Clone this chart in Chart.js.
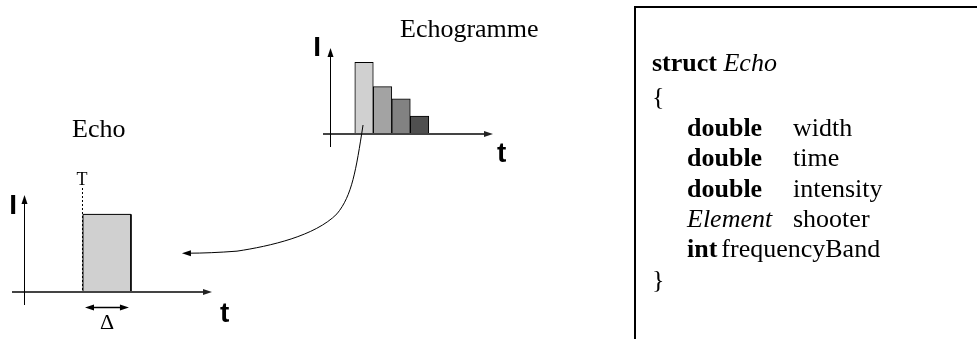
<!DOCTYPE html>
<html>
<head>
<meta charset="utf-8">
<script src="https://cdn.jsdelivr.net/npm/chart.js@4.4.1/dist/chart.umd.min.js"></script>
<style>
  html, body { margin: 0; padding: 0; background: #fff; }
  #page { position: relative; width: 977px; height: 339px; overflow: hidden; }
  canvas { position: absolute; }
  #gram { left: 300px; top: 0; }
  #echo { left: 0; top: 110px; }
  #link { left: 0; top: 0; pointer-events: none; }
  #box {
    position: absolute; left: 634px; top: 6px; width: 420px; height: 420px;
    border: 2px solid #000; box-sizing: border-box;
    padding: 40px 0 0 16px;
    font-family: "Liberation Serif", "Times New Roman", serif;
    font-size: 26px; line-height: 30.4px; color: #000;
  }
  #box .head { margin-bottom: 4px; }
  #box .in { padding-left: 35px; }
  #box .ty { display: inline-block; width: 106px; }
  #box b { font-weight: bold; }
  #box i { font-style: italic; }
</style>
</head>
<body>
<div id="page">
  <canvas id="gram" width="250" height="170"></canvas>
  <canvas id="echo" width="260" height="229"></canvas>
  <canvas id="link" width="977" height="339"></canvas>
  <div id="box">
    <div class="head"><b>struct</b> <i>Echo</i></div>
    <div>{</div>
    <div class="in"><span class="ty"><b>double</b></span>width</div>
    <div class="in"><span class="ty"><b>double</b></span>time</div>
    <div class="in"><span class="ty"><b>double</b></span>intensity</div>
    <div class="in"><span class="ty"><i>Element</i></span>shooter</div>
    <div class="in"><b style="margin-right:4px">int</b>frequencyBand</div>
    <div>}</div>
  </div>
</div>
<script>
// echogramme: successive echoes (time index, relative intensity)
const gramTimes = [1, 2, 3, 4]
const gramIntensity = [1.0, 0.66, 0.49, 0.25]
const gramColors = ['#d0d0d0', '#a3a3a3', '#828282', '#4f4f4f']

// single echo: start time T, width delta, intensity
const echoTime = 1.23
const echoWidth = 1.0
const echoIntensity = 1.0

const SERIF = '"Liberation Serif", "Times New Roman", serif'
const SANS = '"Liberation Sans", Arial, sans-serif'

function arrowHead(ctx, x, y, dir, len, half) {
  // dir: 'up' | 'left' | 'right'
  ctx.beginPath()
  if (dir === 'up') {
    ctx.moveTo(x, y); ctx.lineTo(x - half, y + len); ctx.lineTo(x + half, y + len)
  } else if (dir === 'left') {
    ctx.moveTo(x, y); ctx.lineTo(x + len, y - half); ctx.lineTo(x + len, y + half)
  } else {
    ctx.moveTo(x, y); ctx.lineTo(x - len, y - half); ctx.lineTo(x - len, y + half)
  }
  ctx.closePath()
  ctx.fill()
}

// draws the I / t axes with arrows, like the hand drawn figure
const arrowAxes = {
  id: 'arrowAxes',
  afterDatasetsDraw(chart, args, opts) {
    const ctx = chart.ctx
    const area = chart.chartArea
    const y0 = chart.scales.y.getPixelForValue(0)
    const x0 = area.left
    ctx.save()
    // time axis
    ctx.strokeStyle = '#444'
    ctx.fillStyle = '#222'
    ctx.lineWidth = 2
    ctx.beginPath()
    ctx.moveTo(x0 - opts.xTail, y0)
    ctx.lineTo(area.right - 6, y0)
    ctx.stroke()
    arrowHead(ctx, area.right, y0, 'right', 9, 3)
    // intensity axis
    ctx.strokeStyle = '#000'
    ctx.fillStyle = '#000'
    ctx.lineWidth = 1
    ctx.beginPath()
    ctx.moveTo(x0 + 0.5, y0 + opts.yTail)
    ctx.lineTo(x0 + 0.5, area.top + 6)
    ctx.stroke()
    arrowHead(ctx, x0 + 0.5, area.top, 'up', 9, 3)
    // axis letters
    ctx.font = 'bold 28px ' + SANS
    ctx.textBaseline = 'alphabetic'
    ctx.textAlign = 'right'
    ctx.fillText('I', x0 + opts.iPos[0], area.top + opts.iPos[1])
    ctx.textAlign = 'left'
    ctx.fillText('t', area.right + opts.tPos[0], y0 + opts.tPos[1])
    // caption
    ctx.font = '26px ' + SERIF
    ctx.textAlign = 'left'
    ctx.fillText(opts.caption, x0 + opts.capPos[0], area.top + opts.capPos[1])
    ctx.restore()
  }
}

// echo marks: T line, delta arrow
const echoMarks = {
  id: 'echoMarks',
  afterDatasetsDraw(chart) {
    const ctx = chart.ctx
    const xs = chart.scales.x
    const ys = chart.scales.y
    const xa = xs.getPixelForValue(echoTime)
    const xb = xs.getPixelForValue(echoTime + echoWidth)
    const y0 = ys.getPixelForValue(0)
    ctx.save()
    ctx.strokeStyle = '#000'
    ctx.fillStyle = '#000'
    ctx.lineWidth = 1
    ctx.setLineDash([2, 2])
    ctx.beginPath()
    ctx.moveTo(xa - 0.5, 78)
    ctx.lineTo(xa - 0.5, y0)
    ctx.stroke()
    ctx.setLineDash([])
    ctx.font = '18px ' + SERIF
    ctx.textAlign = 'center'
    ctx.fillText('T', xa - 1, 75)
    // delta arrow
    const ya = y0 + 15.5
    ctx.lineWidth = 1.5
    ctx.beginPath()
    ctx.moveTo(xa + 8, ya)
    ctx.lineTo(xb - 8, ya)
    ctx.stroke()
    arrowHead(ctx, xa + 2, ya, 'left', 9, 3)
    arrowHead(ctx, xb - 2, ya, 'right', 9, 3)
    ctx.font = '22px ' + SERIF
    ctx.fillText('\u0394', (xa + xb) / 2, y0 + 37)
    ctx.restore()
  }
}

const baseOptions = {
  responsive: false,
  animation: false,
  events: [],
  plugins: { legend: { display: false }, tooltip: { enabled: false } },
}

const gramChart = new Chart(document.getElementById('gram'), {
  type: 'bar',
  data: {
    datasets: [{
      data: gramTimes.map((t, i) => ({ x: t, y: gramIntensity[i] })),
      backgroundColor: gramColors,
      borderColor: '#000',
      borderWidth: 1,
      borderSkipped: false,
      barPercentage: 1,
      categoryPercentage: 1,
    }]
  },
  options: {
    ...baseOptions,
    layout: { padding: { left: 30, top: 48, right: 57, bottom: 36 } },
    scales: {
      x: { type: 'linear', min: -0.84, max: 7.97, offset: false, display: false },
      y: { type: 'linear', min: 0, max: 1.2, display: false },
    },
    plugins: {
      ...baseOptions.plugins,
      arrowAxes: { xTail: 7, yTail: 13, iPos: [-9, 8], tPos: [4, 28], caption: 'Echogramme', capPos: [70, -11] }
    }
  },
  plugins: [arrowAxes]
})

const echoChart = new Chart(document.getElementById('echo'), {
  type: 'line',
  data: {
    datasets: [{
      data: [
        { x: echoTime, y: 0 },
        { x: echoTime, y: echoIntensity },
        { x: echoTime + echoWidth, y: echoIntensity },
        { x: echoTime + echoWidth, y: 0 },
      ],
      borderColor: '#000',
      borderWidth: 1,
      backgroundColor: '#d0d0d0',
      fill: 'origin',
      tension: 0,
      pointRadius: 0,
      borderJoinStyle: 'miter',
    }]
  },
  options: {
    ...baseOptions,
    layout: { padding: { left: 24, top: 85, right: 48, bottom: 47 } },
    scales: {
      x: { type: 'linear', min: 0, max: 3.92, display: false },
      y: { type: 'linear', min: 0, max: 1.25, display: false },
    },
    plugins: {
      ...baseOptions.plugins,
      arrowAxes: { xTail: 12, yTail: 13, iPos: [-7, 19], tPos: [8, 30], caption: 'Echo', capPos: [48, -58] }
    }
  },
  plugins: [arrowAxes, echoMarks]
})

// curved arrow from the first echogramme bar to the single echo
function drawLink() {
  const ctx = document.getElementById('link').getContext('2d')
  const bar = gramChart.getDatasetMeta(0).data[0]
  const gy0 = gramChart.scales.y.getPixelForValue(0)
  const s = { x: 300 + bar.x - 1, y: gy0 - 9 }
  const ex = echoChart.scales.x.getPixelForValue(echoTime + echoWidth)
  const ey = echoChart.scales.y.getPixelForValue(echoIntensity / 2)
  const e = { x: ex + 51, y: 110 + ey }
  const dx = s.x - e.x
  const dy = e.y - s.y
  const p = (fx, fy) => [s.x - fx * dx, s.y + fy * dy]
  ctx.save()
  ctx.strokeStyle = '#000'
  ctx.fillStyle = '#000'
  ctx.lineWidth = 1
  ctx.beginPath()
  ctx.moveTo(s.x, s.y)
  ctx.bezierCurveTo(...p(0.039, 0.354), ...p(0.061, 0.551), ...p(0.144, 0.693))
  ctx.bezierCurveTo(...p(0.265, 0.866), ...p(0.514, 0.945), ...p(0.696, 0.984))
  ctx.quadraticCurveTo(...p(0.845, 1.0), e.x + 6, e.y)
  ctx.stroke()
  arrowHead(ctx, e.x, e.y, 'left', 9, 3)
  ctx.restore()
}
drawLink()
</script>
</body>
</html>
